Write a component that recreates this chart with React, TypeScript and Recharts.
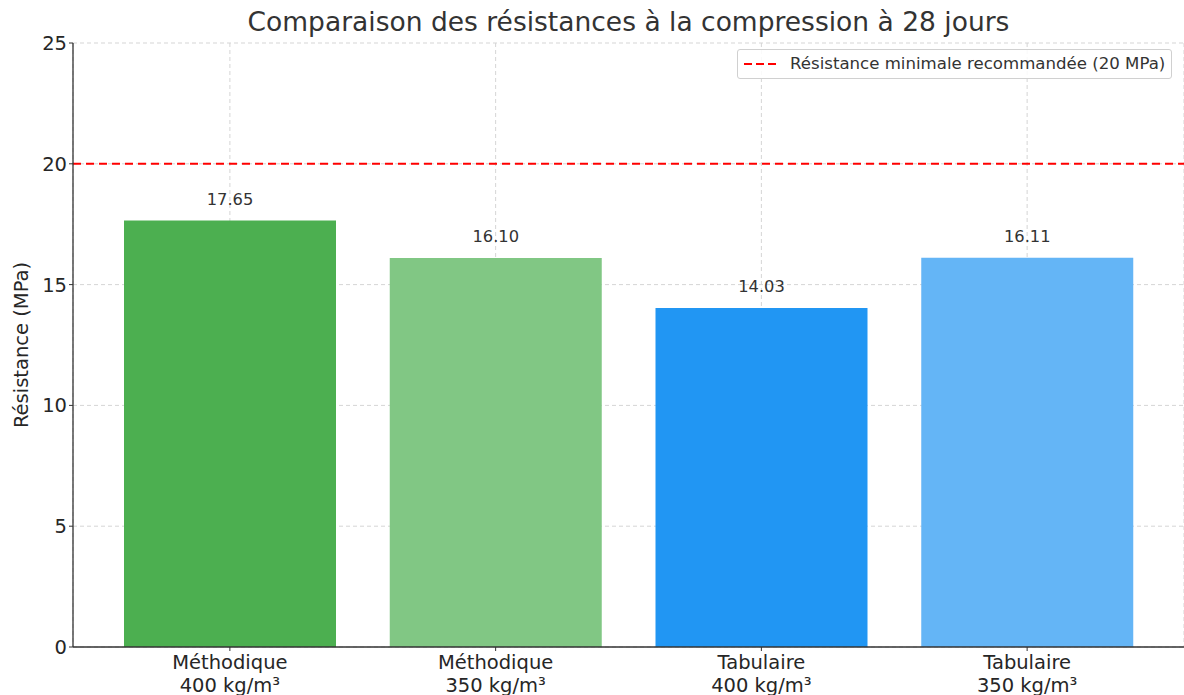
import React from "react";
import { BarChart, Bar, XAxis, YAxis, CartesianGrid, ReferenceLine, LabelList, Cell } from "recharts";

const categories = ["Méthodique\n400 kg/m³", "Méthodique\n350 kg/m³", "Tabulaire\n400 kg/m³", "Tabulaire\n350 kg/m³"];
const resistances = [17.65, 16.1, 14.03, 16.11];
const barColors = ["#4CAF50", "#81C784", "#2196F3", "#64B5F6"];
const yTicks = [0, 5, 10, 15, 20, 25];
const threshold = 20;
const title = "Comparaison des résistances à la compression à 28 jours";
const yLabel = "Résistance (MPa)";
const legendText = "Résistance minimale recommandée (20 MPa)";

const data = categories.map((c, i) => ({ name: c, value: resistances[i] }));

const FONT = "'DejaVu Sans', sans-serif";

const XTick = (props: any) => {
  const { x, y, payload } = props;
  const lines = String(payload.value).split("\n");
  return (
    <g transform={`translate(${x},${y})`}>
      {lines.map((l, i) => (
        <text key={i} x={0} y={i * 23 + 16} textAnchor="middle" fontSize={19.5} fill="#262626" fontFamily={FONT}>
          {l}
        </text>
      ))}
    </g>
  );
};

export default function App() {
  return (
    <div style={{ position: "absolute", left: 0, top: 0, width: 1184, height: 695, background: "#fff" }}>
      <div
        style={{
          position: "absolute",
          top: 5,
          left: 73,
          width: 1111,
          textAlign: "center",
          fontFamily: FONT,
          fontSize: 26.5,
          color: "#333",
          lineHeight: "34px",
        }}
      >
        {title}
      </div>
      <BarChart width={1184} height={695} data={data} margin={{ top: 43, right: 0, left: 0, bottom: 0 }}>
        <XAxis
          dataKey="name"
          height={48}
          padding={{ left: 24, right: 24 }}
          tick={<XTick />}
          tickLine={{ stroke: "#333" }}
          axisLine={{ stroke: "#333", strokeWidth: 1.3 }}
          tickSize={4}
          interval={0}
        />
        <YAxis
          width={73}
          domain={[0, 25]}
          ticks={yTicks}
          tick={{ fontSize: 19.5, fill: "#262626", fontFamily: FONT }}
          tickLine={{ stroke: "#333" }}
          axisLine={{ stroke: "#333", strokeWidth: 1.3 }}
          tickSize={4}
          label={{ value: yLabel, angle: -90, position: "insideLeft", offset: 21, style: { fontSize: 19.5, fill: "#262626", fontFamily: FONT, textAnchor: "middle" } }}
        />
        <Bar dataKey="value" barSize={212} isAnimationActive={false}>
          {data.map((d, i) => (
            <Cell key={i} fill={barColors[i]} />
          ))}
          <LabelList
            dataKey="value"
            position="top"
            offset={16}
            formatter={(v: any) => Number(v).toFixed(2)}
            style={{ fontSize: 16.3, fill: "#333", fontFamily: FONT }}
          />
        </Bar>
        <CartesianGrid stroke="#d5d5d5" strokeDasharray="4 3" />
        <ReferenceLine y={threshold} stroke="#ff0000" strokeWidth={2} strokeDasharray="8 5" />
      </BarChart>
      <div
        style={{
          position: "absolute",
          top: 49,
          left: 737,
          border: "1px solid #d0d0d0",
          borderRadius: 3,
          background: "rgba(255,255,255,0.85)",
          padding: "3px 6px 3px 4px",
          display: "flex",
          alignItems: "center",
          fontFamily: FONT,
          fontSize: 16.6,
          color: "#333",
          whiteSpace: "nowrap",
          lineHeight: "22px",
        }}
      >
        <svg width={40} height={10} style={{ marginRight: 8 }}>
          <line x1={2} y1={5} x2={38} y2={5} stroke="#ff0000" strokeWidth={2.2} strokeDasharray="8 4" />
        </svg>
        {legendText}
      </div>
    </div>
  );
}
